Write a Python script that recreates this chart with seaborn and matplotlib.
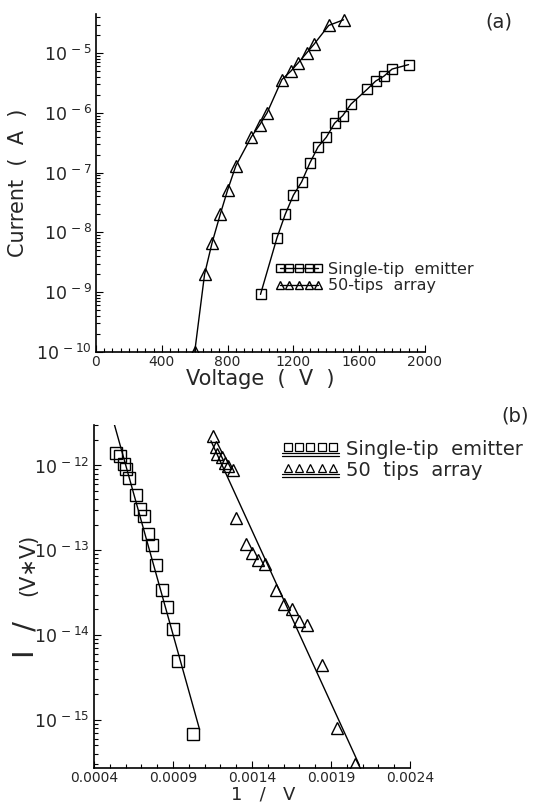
import numpy as np
import pandas as pd
import matplotlib
matplotlib.use("Agg")
import matplotlib.pyplot as plt
import seaborn as sns
from matplotlib.lines import Line2D
from matplotlib.legend_handler import HandlerBase
from matplotlib.ticker import FixedLocator, MultipleLocator, FuncFormatter, NullFormatter

# ---------------- data: panel (a) ----------------
single_voltage = [1000, 1100, 1150, 1200, 1250, 1300, 1350, 1400, 1450, 1500,
                  1550, 1650, 1700, 1750, 1800, 1900]
single_current = [9.2e-10, 8.1e-9, 2.0e-8, 4.2e-8, 7.0e-8, 1.45e-7, 2.7e-7, 3.9e-7,
                  6.7e-7, 9.0e-7, 1.4e-6, 2.5e-6, 3.4e-6, 4.1e-6, 5.4e-6, 6.4e-6]
array_voltage = [600, 660, 705, 755, 800, 850, 945, 995, 1040, 1130, 1185, 1230,
                 1280, 1325, 1415, 1505]
array_current = [1.0e-10, 2.0e-9, 6.6e-9, 2.0e-8, 5.1e-8, 1.3e-7, 4.0e-7, 6.3e-7,
                 1.0e-6, 3.6e-6, 5.0e-6, 6.9e-6, 1.0e-5, 1.4e-5, 2.9e-5, 3.6e-5]

# ---------------- data: panel (b) ----------------
single_invv = [0.000540, 0.000566, 0.000588, 0.000604, 0.000622, 0.000666, 0.000688,
               0.000715, 0.000740, 0.000766, 0.000795, 0.000833, 0.000862, 0.000899,
               0.000932, 0.001028]
single_fn = [1.40e-12, 1.29e-12, 1.05e-12, 9.1e-13, 7.1e-13, 4.45e-13, 3.1e-13,
             2.5e-13, 1.54e-13, 1.16e-13, 6.7e-14, 3.4e-14, 2.15e-14, 1.17e-14,
             5.0e-15, 6.8e-16]
array_invv = [0.00115, 0.00117, 0.00118, 0.00121, 0.00123, 0.00125, 0.00128, 0.00130,
              0.00136, 0.00140, 0.00144, 0.00148, 0.00155, 0.00160, 0.00165, 0.00170,
              0.00175, 0.00184, 0.00194, 0.00205]
array_fn = [2.2e-12, 1.66e-12, 1.38e-12, 1.26e-12, 1.07e-12, 9.8e-13, 8.9e-13, 2.4e-13,
            1.2e-13, 9.3e-14, 7.6e-14, 6.8e-14, 3.4e-14, 2.3e-14, 2.0e-14, 1.45e-14,
            1.32e-14, 4.4e-15, 7.9e-16, 3.0e-16]

legend_a = ["Single-tip  emitter", "50-tips  array"]
legend_b = ["Single-tip  emitter", "50  tips  array"]
xticks_a = [0, 400, 800, 1200, 1600, 2000]
xticks_b = [0.0004, 0.0009, 0.0014, 0.0019, 0.0024]
yexp_a = [-10, -9, -8, -7, -6, -5]
yexp_b = [-15, -14, -13, -12]

sns.set_style("ticks")
plt.rcParams["font.family"] = ["DejaVu Sans"]
plt.rcParams["mathtext.fontset"] = "dejavusans"

fig = plt.figure(figsize=(5.34, 8.05), dpi=100)
W, H = 534, 805
axa = fig.add_axes([96 / W, 1 - 352 / H, (425 - 96) / W, (352 - 14) / H])
axb = fig.add_axes([94 / W, 1 - 768 / H, (410 - 94) / W, (768 - 425) / H])


def exp_fmt(v, pos):
    n = int(round(np.log10(v)))
    return r"10$^{\,%d}$" % n


def minor_log(exps, lo, hi):
    vals = []
    for e in range(min(exps) - 1, max(exps) + 1):
        for s in range(2, 10):
            v = s * 10.0 ** e
            if lo <= v <= hi:
                vals.append(v)
    return vals


def style_axis(ax):
    for s in ["top", "right"]:
        ax.spines[s].set_visible(False)
    for s in ["left", "bottom"]:
        ax.spines[s].set_linewidth(1.2)
        ax.spines[s].set_color("black")
    ax.tick_params(which="both", direction="in", color="black", width=0.8)
    ax.tick_params(which="major", length=5)
    ax.tick_params(which="minor", length=3)
    ax.tick_params(axis="y", which="major", labelsize=12.5, pad=3)
    ax.tick_params(axis="x", which="major", labelsize=10, pad=2)
    ax.set_facecolor("white")
    ax.grid(False)


# ---------------- panel (a) ----------------
df_s = pd.DataFrame({"V": single_voltage, "I": single_current})
df_t = pd.DataFrame({"V": array_voltage, "I": array_current})
sns.lineplot(data=df_s, x="V", y="I", ax=axa, sort=False, estimator=None, color="black",
             lw=1.0, marker="s", markersize=7, markerfacecolor="none",
             markeredgecolor="black", markeredgewidth=1.0)
sns.lineplot(data=df_t, x="V", y="I", ax=axa, sort=False, estimator=None, color="black",
             lw=1.0, marker="^", markersize=8, markerfacecolor="none",
             markeredgecolor="black", markeredgewidth=1.0)
axa.set_yscale("log")
ylo_a, yhi_a = 1e-10, 4.5e-5
axa.set_xlim(0, 2000)
axa.set_ylim(ylo_a, yhi_a)
axa.xaxis.set_major_locator(FixedLocator(xticks_a))
axa.xaxis.set_minor_locator(MultipleLocator(50))
axa.yaxis.set_major_locator(FixedLocator([10.0 ** e for e in yexp_a]))
axa.yaxis.set_minor_locator(FixedLocator(minor_log(yexp_a, ylo_a, yhi_a)))
axa.yaxis.set_major_formatter(FuncFormatter(exp_fmt))
axa.yaxis.set_minor_formatter(NullFormatter())
style_axis(axa)
axa.set_xlabel("Voltage  (  V  )", fontsize=15, labelpad=0)
axa.set_ylabel("Current  (  A  )", fontsize=15, labelpad=6)
if axa.get_legend():
    axa.get_legend().remove()

h_sq = Line2D([], [], color="black", lw=1.0, marker="s", markersize=5.5,
              markerfacecolor="none", markeredgecolor="black")
h_tr = Line2D([], [], color="black", lw=1.0, marker="^", markersize=5.5,
              markerfacecolor="none", markeredgecolor="black")
axa.legend([h_sq, h_tr], legend_a, loc="lower left", bbox_to_anchor=(0.52, 0.15),
           numpoints=5, handlelength=3.0, handletextpad=0.3, fontsize=11.5,
           frameon=False, labelspacing=0.1, borderpad=0.0)
fig.text(0.935, 0.973, "(a)", fontsize=14, ha="center", va="center")

# ---------------- panel (b) ----------------
df_sb = pd.DataFrame({"x": single_invv, "y": single_fn})
df_tb = pd.DataFrame({"x": array_invv, "y": array_fn})
sns.lineplot(data=df_sb, x="x", y="y", ax=axb, sort=False, estimator=None, color="black",
             linestyle="none", marker="s", markersize=8, markerfacecolor="none",
             markeredgecolor="black", markeredgewidth=1.0)
sns.lineplot(data=df_tb, x="x", y="y", ax=axb, sort=False, estimator=None, color="black",
             linestyle="none", marker="^", markersize=8.5, markerfacecolor="none",
             markeredgecolor="black", markeredgewidth=1.0)

# Fowler-Nordheim straight-line fits (log10(I/V^2) linear in 1/V)
for xs, ys, lo, hi in [(single_invv, single_fn, 0.00002, 0.00004),
                       (array_invv, array_fn, 0.00001, 0.00003)]:
    xs = np.asarray(xs)
    k, b = np.polyfit(xs, np.log10(ys), 1)
    xx = np.array([xs.min() - lo, xs.max() + hi])
    sns.lineplot(x=xx, y=10 ** (k * xx + b), ax=axb, color="black", lw=1.0,
                 sort=False, estimator=None)

axb.set_yscale("log")
ylo_b, yhi_b = 2.7e-16, 3e-12
axb.set_xlim(0.0004, 0.0024)
axb.set_ylim(ylo_b, yhi_b)
axb.xaxis.set_major_locator(FixedLocator(xticks_b))
axb.xaxis.set_minor_locator(MultipleLocator(0.0001))
axb.xaxis.set_major_formatter(FuncFormatter(lambda v, p: f"{v:.4f}"))
axb.yaxis.set_major_locator(FixedLocator([10.0 ** e for e in yexp_b]))
axb.yaxis.set_minor_locator(FixedLocator(minor_log(yexp_b, ylo_b, yhi_b)))
axb.yaxis.set_major_formatter(FuncFormatter(exp_fmt))
axb.yaxis.set_minor_formatter(NullFormatter())
style_axis(axb)
axb.set_ylabel("")
axb.set_xlabel("1   /   V", fontsize=13, labelpad=1)
axb.xaxis.set_label_coords((263 - 94) / 316, -0.052)
axb.xaxis.label.set_va("top")

# y label in two sizes, as in the original
fig.text(33 / W, 1 - 640 / H, "I  /", fontsize=21, rotation=90, rotation_mode="anchor",
         ha="center", va="baseline")
fig.text(34 / W, 1 - 565 / H, "(V∗V)", fontsize=15, rotation=90, rotation_mode="anchor",
         ha="center", va="baseline")


class UnderlineHandler(HandlerBase):
    def create_artists(self, legend, orig_handle, xdescent, ydescent, width, height,
                       fontsize, trans):
        xs = np.linspace(-xdescent + 4, width - xdescent - 4, 5)
        ym = height * 0.55 - ydescent
        m = Line2D(xs, [ym] * 5, linestyle="none", marker=orig_handle.get_marker(),
                   markersize=6, markerfacecolor="none", markeredgecolor="black",
                   markeredgewidth=0.9, transform=trans)
        y1 = ym - height * 0.42
        l1 = Line2D([-xdescent, width - xdescent], [y1, y1], color="black", lw=0.9,
                    transform=trans)
        l2 = Line2D([-xdescent, width - xdescent], [y1 - 2, y1 - 2], color="black",
                    lw=0.9, transform=trans)
        return [m, l1, l2]


hb_sq = Line2D([], [], marker="s")
hb_tr = Line2D([], [], marker="^")
fig.legend([hb_sq, hb_tr], legend_b, loc="upper right", bbox_to_anchor=(0.998, 1 - 430 / H),
           handler_map={Line2D: UnderlineHandler()}, handlelength=2.9,
           handletextpad=0.4, fontsize=14, frameon=False, labelspacing=0.1,
           borderpad=0.0)
fig.text(0.965, 1 - 416 / H, "(b)", fontsize=14, ha="center", va="center")

fig.savefig("out.png", dpi=100, facecolor="white")
